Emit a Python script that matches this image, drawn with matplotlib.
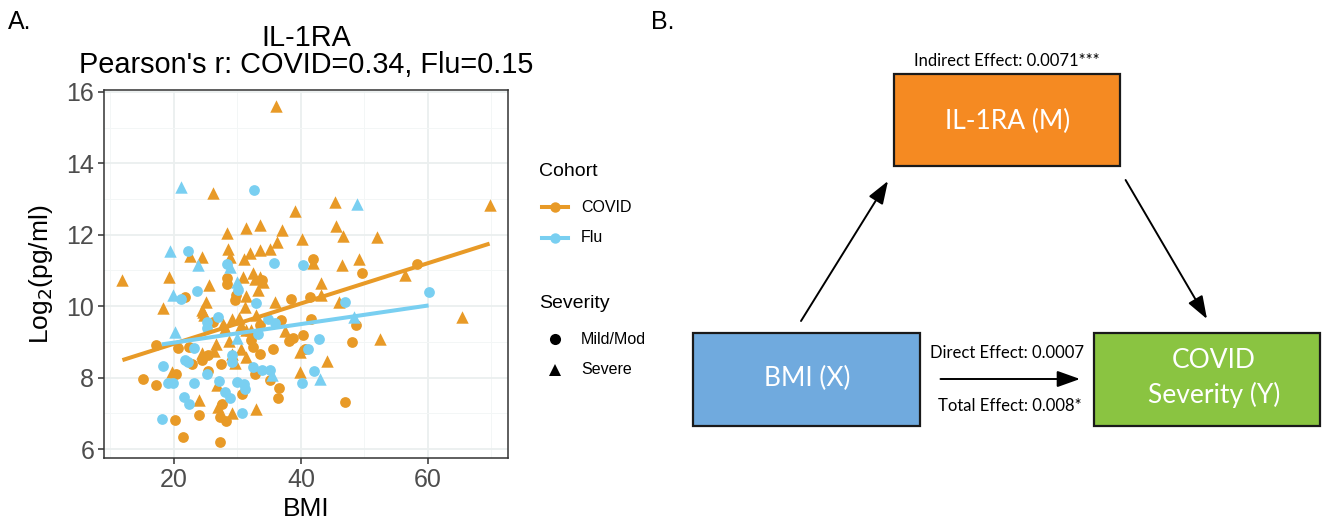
import matplotlib
matplotlib.use("Agg")
import matplotlib.pyplot as plt
from matplotlib.lines import Line2D
from matplotlib.patches import Rectangle

# ---------------- data ----------------
covid_mild_bmi = [41.9, 49.6, 58.2, 28.4, 28.4, 29.8, 29.6, 21.8, 33.8, 38.5, 41.4, 41.6, 36.9,
                  17.2, 20.6, 22.4, 24.5, 25.4, 32.5, 32.1, 22.8, 27.4, 20.3, 15.2, 17.2, 25.4,
                  30.7, 32.7, 27.5, 27.3, 28.2, 24.0, 20.1, 21.4, 27.3, 35.6, 38.2, 38.8, 40.3,
                  40.6, 36.6, 36.4, 46.9, 48.1, 48.6, 35.1, 33.6, 26.2, 33.5]
covid_mild_log2 = [11.31, 10.93, 11.17, 10.79, 10.63, 10.30, 10.16, 10.25, 10.72, 10.20, 10.25, 9.65, 9.62,
                   8.92, 8.83, 8.87, 8.50, 8.63, 8.86, 9.05, 8.37, 8.39, 8.11, 7.97, 7.79, 8.19,
                   7.55, 8.10, 7.26, 6.89, 6.79, 6.95, 6.81, 6.33, 6.19, 8.81, 9.03, 9.12, 9.18,
                   8.81, 7.70, 7.42, 7.32, 9.00, 9.46, 7.93, 8.67, 9.56, 9.48]

covid_sev_bmi = [36.1, 26.1, 39.0, 28.3, 31.3, 33.6, 37.0, 36.3, 35.2, 33.6, 32.0, 31.0, 28.5, 28.8,
                 24.4, 22.5, 45.4, 45.6, 46.6, 40.2, 52.0, 41.9, 46.5, 49.2, 69.7, 19.3, 30.9, 32.5,
                 32.7, 33.6, 34.0, 33.3, 31.4, 31.2, 25.6, 18.3, 25.1, 24.5, 24.7, 43.2, 35.9, 43.2,
                 46.0, 56.4, 65.3, 11.8, 26.6, 24.5, 26.3, 28.7, 29.1, 30.5, 29.6, 31.4, 19.7, 26.8,
                 24.0, 27.0, 29.2, 33.0, 39.9, 44.1, 39.9, 52.4, 37.5, 24.6, 27.8, 28.1, 29.1, 30.2,
                 30.6, 31.4, 33.0, 32.2]
covid_sev_log2 = [15.61, 13.17, 12.66, 12.05, 12.20, 12.27, 12.13, 11.79, 11.60, 11.58, 11.48, 11.33, 11.60, 11.38,
                  11.37, 11.40, 12.91, 12.24, 11.95, 11.88, 11.93, 11.20, 11.14, 11.33, 12.82, 10.83, 10.83, 10.92,
                  10.77, 10.81, 10.67, 10.46, 10.28, 9.99, 10.60, 9.96, 10.13, 9.88, 9.74, 10.65, 10.11, 10.30,
                  10.11, 10.86, 9.70, 10.72, 8.95, 8.69, 8.75, 9.03, 8.67, 8.81, 8.41, 8.58, 8.16, 7.79,
                  7.37, 7.18, 7.01, 7.11, 8.72, 8.47, 8.16, 9.09, 9.30, 9.83, 9.51, 9.39, 9.65, 9.67,
                  9.46, 9.32, 9.76, 9.32]

flu_mild_bmi = [32.6, 22.2, 28.3, 35.8, 40.3, 30.1, 33.0, 23.6, 21.1, 25.2, 25.2, 27.0, 46.9, 60.1,
                35.9, 34.8, 33.3, 29.2, 29.2, 23.1, 21.8, 22.3, 18.3, 19.0, 19.8, 23.2, 25.2, 27.1,
                28.0, 28.9, 29.9, 31.0, 31.2, 32.5, 33.9, 35.1, 21.6, 22.4, 30.7, 18.1, 41.1, 42.8,
                42.0, 40.2]
flu_mild_log2 = [13.26, 11.54, 11.17, 11.21, 11.16, 10.46, 10.10, 10.42, 10.20, 9.55, 9.38, 9.70, 10.13, 10.39,
                 9.53, 9.65, 9.23, 8.63, 8.44, 8.83, 8.50, 8.44, 8.33, 7.84, 7.84, 7.86, 8.10, 7.90,
                 7.60, 7.44, 7.88, 7.83, 7.67, 8.30, 8.22, 8.21, 7.46, 7.26, 7.01, 6.83, 8.81, 9.09,
                 8.19, 7.85]

flu_sev_bmi = [21.1, 48.8, 19.4, 23.8, 28.8, 30.0, 19.8, 20.2, 48.4, 35.5, 43.0, 30.0]
flu_sev_log2 = [13.33, 12.86, 11.53, 11.14, 11.09, 10.67, 10.30, 9.28, 9.70, 8.07, 7.97, 9.12]

# linear-fit lines (end points)
covid_fit_bmi = [11.9, 69.7]
covid_fit_log2 = [8.49, 11.75]
flu_fit_bmi = [18.1, 60.1]
flu_fit_log2 = [8.93, 10.02]

x_ticks = [20, 40, 60]
y_ticks = [6, 8, 10, 12, 14, 16]

title_lines = ["IL-1RA", "Pearson's r: COVID=0.34, Flu=0.15"]
cohort_labels = ["COVID", "Flu"]
severity_labels = ["Mild/Mod", "Severe"]

indirect_label = "Indirect Effect: 0.0071***"
direct_label = "Direct Effect: 0.0007"
total_label = "Total Effect: 0.008*"
box_m = "IL-1RA (M)"
box_x = "BMI (X)"
box_y = "COVID\nSeverity (Y)"

# ---------------- style ----------------
C_COVID = "#E89A27"
C_FLU = "#79CFF1"
W, H = 1322, 523
FONT = "Liberation Sans"
DFONT = "Lato"
plt.rcParams["font.family"] = [FONT, "DejaVu Sans"]

fig = plt.figure(figsize=(W / 100, H / 100), dpi=100)

# scatter panel: pixel box left=104, right=508, top=90, bottom=458
ax = fig.add_axes([104 / W, (H - 458) / H, (508 - 104) / W, (458 - 90) / H])
ax.set_xlim(9.0, 72.6)
ax.set_ylim(5.75, 16.05)
ax.set_xticks(x_ticks)
ax.set_yticks(y_ticks)
ax.set_xticks([10, 30, 50, 70], minor=True)
ax.set_yticks([7, 9, 11, 13, 15], minor=True)
ax.grid(which="major", color="#EBEFEF", lw=1.3, zorder=0)
ax.grid(which="minor", color="#F3F6F6", lw=0.7, zorder=0)
ax.tick_params(which="minor", length=0)
ax.tick_params(which="major", length=4, width=1.1, color="#333333",
               labelsize=18, labelcolor="#4D4D4D", pad=3)
for s in ax.spines.values():
    s.set_color("#333333")
    s.set_linewidth(1.1)
ax.set_axisbelow(True)

ax.scatter(covid_mild_bmi, covid_mild_log2, s=60, marker="o", color=C_COVID, lw=0, zorder=3)
ax.scatter(covid_sev_bmi, covid_sev_log2, s=80, marker="^", color=C_COVID, lw=0, zorder=3)
ax.scatter(flu_mild_bmi, flu_mild_log2, s=60, marker="o", color=C_FLU, lw=0, zorder=3)
ax.scatter(flu_sev_bmi, flu_sev_log2, s=80, marker="^", color=C_FLU, lw=0, zorder=3)
ax.plot(covid_fit_bmi, covid_fit_log2, color=C_COVID, lw=2.9, solid_capstyle="butt", zorder=4)
ax.plot(flu_fit_bmi, flu_fit_log2, color=C_FLU, lw=2.9, solid_capstyle="butt", zorder=4)

ax.set_xlabel("BMI", fontsize=19, labelpad=4)
ax.set_ylabel(r"Log$_2$(pg/ml)", fontsize=19, labelpad=8)

# overlay in pixel coordinates for titles, legend and the diagram
ov = fig.add_axes([0, 0, 1, 1], facecolor="none")
ov.set_xlim(0, W)
ov.set_ylim(H, 0)
ov.axis("off")

ov.text(306, 38, title_lines[0], ha="center", va="center", fontsize=20.8)
ov.text(306, 65, title_lines[1], ha="center", va="center", fontsize=20.8)
ov.text(8, 22, "A.", ha="left", va="center", fontsize=18)
ov.text(651, 22, "B.", ha="left", va="center", fontsize=18)

# legend
ov.text(539, 172, "Cohort", ha="left", va="center", fontsize=14)
for lab, col, yy in zip(cohort_labels, [C_COVID, C_FLU], [207, 238]):
    ov.add_line(Line2D([542, 568], [yy, yy], color=col, lw=2.9))
    ov.plot([555], [yy], marker="o", ms=7.5, color=col, mew=0)
    ov.text(581, yy, lab, ha="left", va="center", fontsize=11.5)
ov.text(539, 304, "Severity", ha="left", va="center", fontsize=14)
for lab, mk, yy in zip(severity_labels, ["o", "^"], [339, 370]):
    ov.plot([555], [yy], marker=mk, ms=8 if mk == "o" else 9, color="black", mew=0)
    ov.text(581, yy, lab, ha="left", va="center", fontsize=11.5)

# diagram
def box(x0, y0, x1, y1, fc):
    ov.add_patch(Rectangle((x0, y0), x1 - x0, y1 - y0, facecolor=fc,
                           edgecolor="#1a1a1a", lw=1.6, zorder=2))

box(893.5, 74, 1120, 166, "#F58A22")
box(693, 333, 920, 426, "#70AADE")
box(1094, 333, 1320, 426, "#8AC441")

ov.text(1008, 121, box_m, ha="center", va="center", fontsize=19, color="white",
        family=DFONT, zorder=3)
ov.text(807, 378, box_x, ha="center", va="center", fontsize=19, color="white",
        family=DFONT, zorder=3)
ov.text(1214, 378, box_y, ha="center", va="center", fontsize=19, color="white",
        family=DFONT, linespacing=1.4, zorder=3)

ov.text(1006.5, 61, indirect_label, ha="center", va="center", fontsize=12, family=DFONT)
ov.text(1006.5, 353, direct_label, ha="center", va="center", fontsize=12, family=DFONT)
ov.text(1010, 406, total_label, ha="center", va="center", fontsize=12, family=DFONT)

arrow = dict(arrowstyle="-|>,head_length=0.7,head_width=0.25", color="black", lw=1.4,
             mutation_scale=20, shrinkA=0, shrinkB=0)
ov.annotate("", xy=(888, 181), xytext=(801, 321), arrowprops=arrow)
ov.annotate("", xy=(1207, 319), xytext=(1125.6, 180), arrowprops=arrow)
ov.annotate("", xy=(1080, 379), xytext=(940.5, 379), arrowprops=arrow)

fig.savefig("out.png", dpi=100)
